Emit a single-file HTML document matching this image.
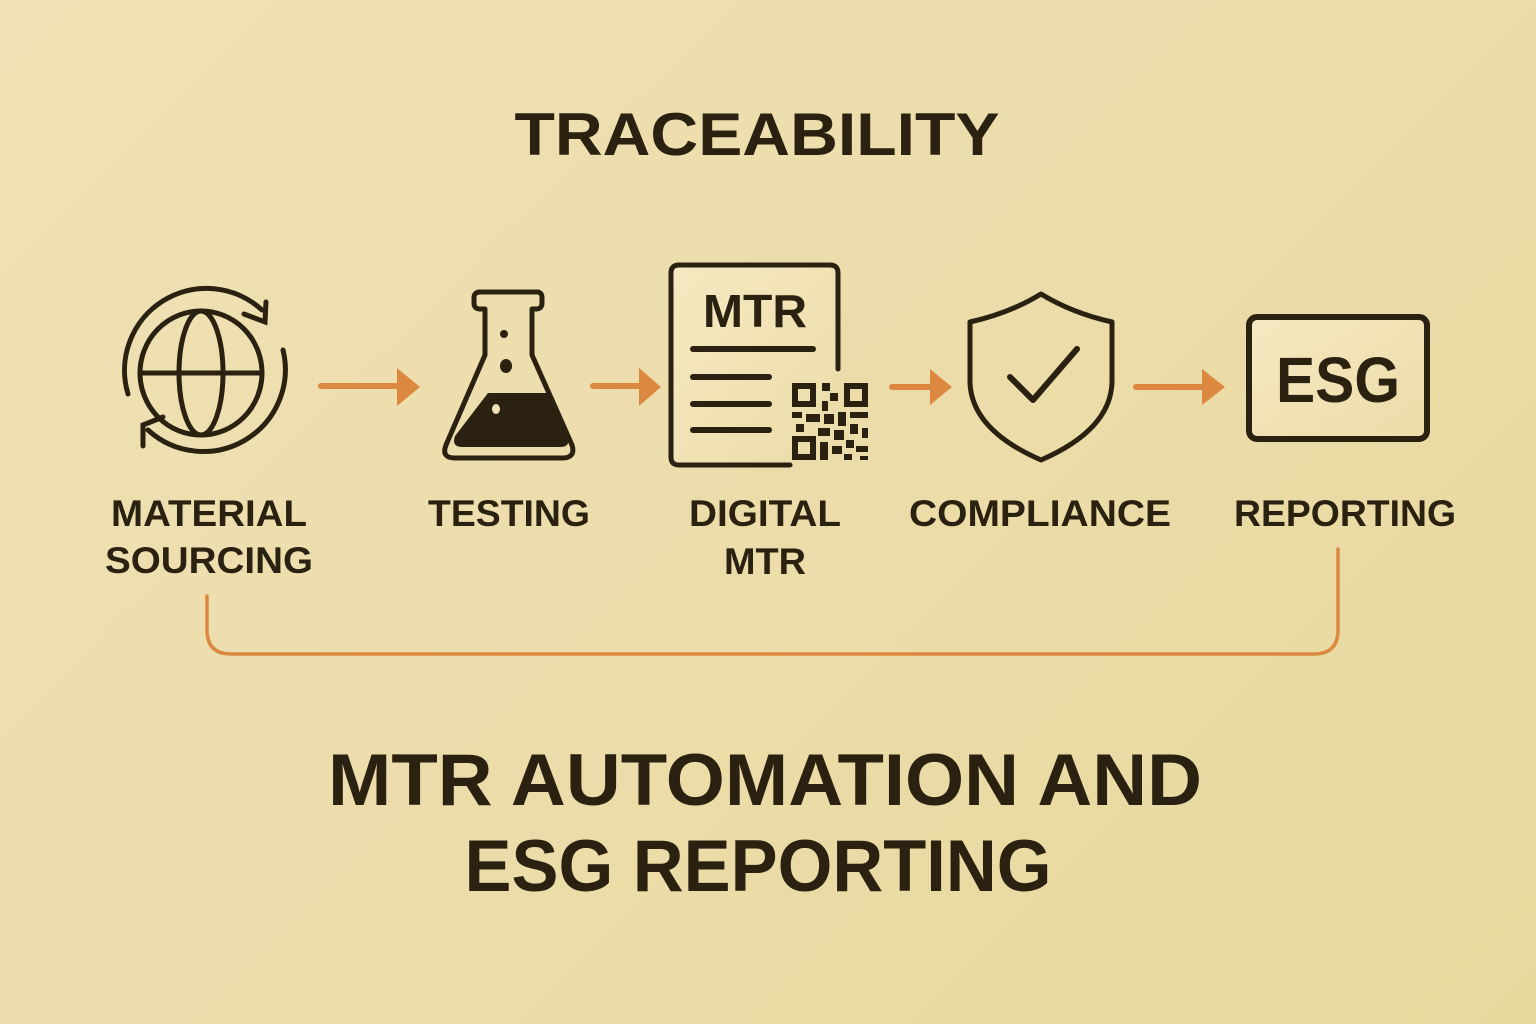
<!DOCTYPE html>
<html><head><meta charset="utf-8"><style>
html,body{margin:0;padding:0;width:1536px;height:1024px;overflow:hidden}
body{background:linear-gradient(135deg,#f0e2b6 0%,#ecdcaa 50%,#e7d99e 100%)}
svg{display:block}
text{font-family:"Liberation Sans","DejaVu Sans",sans-serif;font-weight:bold;fill:#2a2110;text-anchor:middle}
</style></head><body>
<svg width="1536" height="1024" viewBox="0 0 1536 1024">
<defs>
<linearGradient id="pg" x1="0" y1="0" x2="1" y2="1"><stop offset="0" stop-color="#f6e9c2"/><stop offset="1" stop-color="#ecdca8"/></linearGradient>
</defs>
<text x="757" y="155" font-size="60" textLength="485" lengthAdjust="spacingAndGlyphs">TRACEABILITY</text>

<!-- globe -->
<g fill="none" stroke="#2a2110" stroke-width="5" stroke-linecap="round">
<ellipse cx="201" cy="373" rx="61" ry="62"/>
<ellipse cx="201" cy="373" rx="22" ry="62"/>
<line x1="140" y1="373" x2="262" y2="373"/>
<path d="M128 394 A82 82 0 0 1 262 310"/>
<path d="M244 314 L265 322 L266 302"/>
<path d="M283 350 A82 82 0 0 1 148 430"/>
<path d="M163 417 L143 425 L143 446"/>
</g>

<!-- arrows -->
<g stroke="#dc8840" stroke-width="6" stroke-linecap="round" fill="#dc8840">
<line x1="321" y1="386" x2="402" y2="386"/><polygon points="397,368 420,387 397,406" stroke="none"/>
<line x1="593" y1="386" x2="643" y2="386"/><polygon points="639,368 661,387 639,406" stroke="none"/>
<line x1="892" y1="387" x2="936" y2="387"/><polygon points="930,369 952,387 930,405" stroke="none"/>
<line x1="1136" y1="387" x2="1208" y2="387"/><polygon points="1202,369 1225,387 1202,405" stroke="none"/>
</g>

<!-- flask -->
<g fill="none" stroke="#2a2110" stroke-width="5" stroke-linejoin="round">
<path d="M482 292 H537 Q542 292 542 298 V303 Q542 309 536 309 H532 V355 L572 445 Q576 458 562 458 H455 Q441 458 446 445 L485 355 V309 H480 Q474 309 474 303 V298 Q474 292 480 292 Z"/>
</g>
<path d="M488 393 H547 L568 436 Q571 447 560 447 H463 Q451 447 455 436 Z" fill="#2a2110"/>
<circle cx="504" cy="334" r="4" fill="#2a2110"/>
<ellipse cx="506" cy="366" rx="6" ry="7" fill="#2a2110"/>
<ellipse cx="496" cy="409" rx="4" ry="5" fill="#f0e2b6"/>

<!-- document -->
<path d="M790 465 H679 Q671 465 671 457 V273 Q671 265 679 265 H830 Q838 265 838 273 V369" fill="url(#pg)" stroke="#2a2110" stroke-width="5" stroke-linecap="round"/>
<text x="755" y="327" font-size="46" textLength="104" lengthAdjust="spacingAndGlyphs">MTR</text>
<g stroke="#2a2110" stroke-width="6" stroke-linecap="round">
<line x1="693" y1="349" x2="813" y2="349"/>
<line x1="693" y1="377" x2="769" y2="377"/>
<line x1="693" y1="404" x2="769" y2="404"/>
<line x1="693" y1="430" x2="769" y2="430"/>
</g>
<!-- QR -->
<g fill="#2a2110">
<path d="M792 383h24v24h-24zM798 389v12h12v-12z" fill-rule="evenodd"/>
<path d="M844 383h24v24h-24zM850 389v12h12v-12z" fill-rule="evenodd"/>
<path d="M792 436h24v24h-24zM798 442v12h12v-12z" fill-rule="evenodd"/>
<rect x="822" y="383" width="8" height="8"/><rect x="830" y="393" width="8" height="8"/><rect x="822" y="401" width="6" height="10"/>
<rect x="792" y="412" width="10" height="6"/><rect x="806" y="414" width="14" height="8"/><rect x="824" y="414" width="10" height="10"/>
<rect x="838" y="412" width="8" height="14"/><rect x="850" y="412" width="18" height="6"/><rect x="796" y="424" width="8" height="8"/>
<rect x="818" y="428" width="12" height="8"/><rect x="834" y="430" width="10" height="10"/><rect x="850" y="424" width="8" height="10"/>
<rect x="862" y="428" width="6" height="10"/><rect x="820" y="442" width="8" height="18"/><rect x="832" y="446" width="10" height="8"/>
<rect x="846" y="440" width="8" height="8"/><rect x="856" y="446" width="12" height="6"/><rect x="844" y="454" width="8" height="6"/><rect x="860" y="456" width="8" height="4"/>
</g>

<!-- shield -->
<g fill="none" stroke="#2a2110" stroke-width="5" stroke-linecap="round" stroke-linejoin="round">
<path d="M1041 294 Q1072 313 1112 322 V383 Q1110 430 1041 460 Q972 430 970 383 V322 Q1010 313 1041 294 Z"/>
<path d="M1010 377 L1033 400 L1077 349" stroke-width="6"/>
</g>

<!-- ESG -->
<rect x="1249" y="317" width="178" height="122" rx="8" fill="url(#pg)" stroke="#2a2110" stroke-width="6"/>
<text x="1338" y="402" font-size="64" textLength="124" lengthAdjust="spacingAndGlyphs">ESG</text>

<!-- labels -->
<g font-size="37">
<text x="209" y="526" textLength="196" lengthAdjust="spacingAndGlyphs">MATERIAL</text>
<text x="209" y="573" textLength="208" lengthAdjust="spacingAndGlyphs">SOURCING</text>
<text x="509" y="526" textLength="162" lengthAdjust="spacingAndGlyphs">TESTING</text>
<text x="765" y="526" textLength="152" lengthAdjust="spacingAndGlyphs">DIGITAL</text>
<text x="765" y="574" textLength="82" lengthAdjust="spacingAndGlyphs">MTR</text>
<text x="1040" y="526" textLength="262" lengthAdjust="spacingAndGlyphs">COMPLIANCE</text>
<text x="1345" y="526" textLength="222" lengthAdjust="spacingAndGlyphs">REPORTING</text>
</g>

<!-- bottom connector -->
<path d="M207 596 V630 Q207 654 231 654 H1314 Q1338 654 1338 630 V549" fill="none" stroke="#dc8840" stroke-width="3.5" stroke-linecap="round"/>

<g font-size="73">
<text x="765" y="805" textLength="874" lengthAdjust="spacingAndGlyphs">MTR AUTOMATION AND</text>
<text x="758" y="891" textLength="587" lengthAdjust="spacingAndGlyphs">ESG REPORTING</text>
</g>
</svg>
</body></html>
